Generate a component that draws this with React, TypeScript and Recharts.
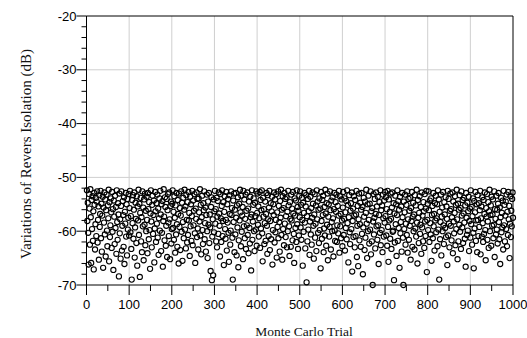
import React from 'react';
import { ScatterChart, Scatter, XAxis, YAxis, ReferenceLine } from 'recharts';

// Reverse isolation per Monte Carlo trial in blocks of 100 trials
const trials0 = [
  -52.4, -58.1, -54.7, -60.3, -66.2, -53.1, -55.8, -62.5, -52.2, -57.4,
  -65.9, -54.2, -59.6, -53.5, -61.8, -56.3, -67.1, -52.9, -55.1, -63.4,
  -58.7, -53.8, -60.9, -54.5, -52.6, -62.1, -57.9, -55.4, -65.3, -53.3,
  -59.2, -56.8, -52.5, -61.3, -54.9, -63.8, -57.1, -53.6, -66.8, -55.6,
  -58.4, -52.8, -60.6, -54.1, -64.7, -56.1, -53.2, -59.9, -62.8, -55.2,
  -57.6, -52.3, -65.6, -54.6, -61.1, -58.9, -53.9, -56.5, -63.1, -52.7,
  -60.1, -55.9, -67.2, -54.3, -57.3, -62.4, -53.4, -59.4, -55.5, -64.2,
  -52.4, -58.3, -61.6, -54.8, -56.9, -68.4, -53.0, -60.4, -57.8, -65.1,
  -55.3, -52.6, -63.6, -59.0, -54.4, -57.0, -62.9, -53.7, -66.1, -56.4,
  -58.6, -52.9, -61.0, -55.0, -64.5, -54.0, -59.7, -57.5, -53.1, -60.8,
];
const trials1 = [
  -55.7, -52.5, -60.2, -57.2, -63.3, -69.0, -54.2, -58.5, -53.3, -61.4,
  -56.0, -52.8, -64.9, -59.3, -54.7, -57.7, -62.2, -53.5, -66.4, -55.4,
  -58.0, -52.3, -60.7, -54.9, -68.5, -56.6, -53.8, -61.9, -57.4, -63.9,
  -52.6, -59.1, -55.6, -65.4, -54.1, -58.8, -53.0, -62.6, -56.2, -60.0,
  -53.6, -57.9, -64.1, -52.9, -55.9, -61.5, -54.6, -59.8, -67.0, -56.7,
  -52.4, -58.2, -63.0, -55.1, -53.4, -60.5, -57.0, -54.3, -65.8, -59.5,
  -52.7, -56.3, -62.0, -54.8, -58.6, -53.2, -61.2, -55.8, -64.4, -57.6,
  -53.9, -59.9, -52.5, -56.9, -63.7, -55.0, -60.3, -54.4, -66.6, -58.1,
  -52.2, -57.3, -61.7, -53.7, -55.5, -62.7, -59.0, -54.0, -64.8, -56.1,
  -53.1, -58.4, -60.9, -52.8, -57.8, -65.2, -55.3, -54.5, -62.3, -59.6,
];
const trials2 = [
  -54.9, -52.4, -59.4, -56.4, -61.6, -53.5, -57.5, -64.0, -55.2, -60.6,
  -52.9, -58.7, -62.9, -54.2, -56.8, -66.0, -53.0, -59.2, -55.7, -63.5,
  -57.1, -52.6, -60.1, -54.7, -65.5, -58.3, -53.8, -61.3, -56.0, -52.3,
  -59.7, -55.4, -63.2, -53.3, -57.9, -62.1, -54.6, -60.7, -52.7, -58.0,
  -56.6, -64.6, -53.6, -59.1, -55.0, -61.8, -57.2, -52.5, -62.6, -54.3,
  -58.9, -56.2, -53.1, -60.4, -65.9, -55.8, -57.7, -52.8, -61.1, -54.0,
  -59.5, -63.4, -53.9, -56.5, -58.2, -52.2, -60.8, -55.1, -64.3, -57.4,
  -53.4, -59.8, -62.4, -54.8, -56.1, -52.6, -61.5, -58.5, -55.6, -63.8,
  -57.0, -53.2, -60.0, -65.0, -54.5, -58.8, -52.9, -62.2, -56.9, -59.3,
  -67.4, -55.5, -53.7, -69.1, -61.0, -57.8, -68.2, -54.1, -60.2, -56.3,
];
const trials3 = [
  -52.5, -58.6, -55.9, -61.9, -53.8, -63.0, -57.3, -54.4, -60.5, -52.8,
  -56.7, -59.0, -64.7, -53.1, -57.6, -62.0, -55.3, -52.4, -60.9, -58.1,
  -54.6, -66.3, -56.4, -53.5, -59.6, -61.4, -57.9, -52.7, -63.6, -55.0,
  -58.4, -54.0, -60.3, -65.7, -53.3, -56.8, -62.5, -59.9, -52.6, -57.0,
  -55.7, -61.2, -69.0, -54.3, -58.3, -53.0, -63.9, -56.0, -60.6, -52.9,
  -57.5, -64.5, -55.2, -59.3, -53.7, -66.7, -61.7, -54.9, -58.0, -52.3,
  -56.5, -62.8, -53.4, -60.1, -57.1, -55.5, -65.2, -52.5, -59.1, -54.1,
  -61.3, -57.7, -53.2, -63.3, -56.2, -58.9, -52.8, -60.7, -55.8, -64.1,
  -54.5, -59.4, -62.3, -53.6, -57.4, -67.3, -56.9, -52.4, -61.6, -58.2,
  -55.1, -53.9, -60.0, -63.7, -54.7, -57.2, -59.7, -52.6, -62.7, -56.6,
];
const trials4 = [
  -53.0, -58.8, -55.4, -61.0, -57.6, -52.7, -63.1, -54.2, -59.5, -56.1,
  -52.4, -60.4, -65.6, -53.8, -57.3, -55.9, -62.4, -58.5, -54.5, -61.8,
  -56.8, -52.9, -59.0, -64.2, -53.3, -57.8, -60.9, -55.6, -52.5, -63.5,
  -58.1, -54.8, -61.5, -56.3, -53.6, -66.2, -59.8, -55.0, -57.0, -52.8,
  -62.1, -54.1, -60.2, -57.9, -53.1, -64.9, -56.5, -59.2, -52.6, -61.3,
  -55.3, -58.3, -63.8, -54.4, -57.5, -52.3, -60.7, -56.0, -65.3, -53.5,
  -59.6, -55.7, -62.6, -52.9, -58.6, -54.0, -61.1, -57.2, -53.7, -63.0,
  -56.4, -60.0, -52.5, -55.2, -59.1, -64.6, -54.6, -57.7, -62.9, -53.2,
  -58.0, -55.8, -61.7, -52.7, -56.7, -60.5, -65.9, -53.9, -57.1, -59.4,
  -54.3, -62.0, -52.4, -58.7, -55.5, -63.3, -56.2, -60.8, -53.4, -57.4,
];
const trials5 = [
  -52.6, -59.3, -55.1, -61.6, -53.8, -57.9, -66.4, -54.7, -60.1, -56.6,
  -52.9, -58.4, -63.2, -55.4, -53.3, -69.5, -57.2, -61.9, -54.0, -59.7,
  -56.3, -52.5, -64.4, -58.2, -53.6, -60.6, -55.7, -62.5, -57.5, -52.8,
  -54.9, -59.0, -65.1, -56.9, -53.1, -61.2, -58.6, -55.2, -63.7, -52.4,
  -57.8, -54.5, -60.3, -56.0, -62.2, -53.9, -59.8, -55.8, -66.9, -52.7,
  -58.1, -61.4, -54.2, -57.0, -53.4, -63.9, -59.5, -55.5, -60.8, -52.3,
  -56.7, -62.7, -54.8, -58.8, -53.0, -65.4, -57.3, -55.0, -61.0, -59.2,
  -52.6, -56.1, -63.4, -54.3, -58.3, -60.0, -53.7, -57.6, -64.7, -55.9,
  -52.9, -59.9, -61.8, -54.6, -56.4, -53.2, -62.0, -58.9, -55.3, -60.4,
  -57.1, -52.5, -64.0, -53.5, -59.1, -56.8, -61.3, -54.1, -58.0, -62.8,
];
const trials6 = [
  -55.6, -52.7, -60.7, -57.7, -53.9, -63.6, -56.5, -59.4, -54.4, -61.5,
  -52.4, -58.5, -55.1, -65.8, -57.4, -53.3, -60.2, -62.4, -56.2, -54.8,
  -59.6, -52.8, -67.5, -58.1, -55.8, -61.1, -53.5, -57.1, -63.0, -54.2,
  -60.9, -56.9, -52.5, -64.8, -59.0, -55.3, -66.5, -57.8, -53.0, -61.7,
  -58.7, -54.7, -62.9, -56.0, -52.9, -60.5, -55.5, -68.0, -59.3, -53.8,
  -57.3, -63.5, -54.5, -61.2, -56.6, -52.3, -58.6, -65.0, -55.0, -60.0,
  -53.4, -57.9, -62.3, -54.9, -59.7, -52.6, -64.3, -56.3, -61.9, -55.7,
  -70.0, -58.2, -53.1, -60.6, -57.5, -54.0, -63.2, -56.8, -52.8, -59.1,
  -55.4, -61.6, -53.6, -58.9, -66.1, -57.0, -54.6, -60.3, -52.4, -62.6,
  -56.1, -59.8, -55.2, -63.9, -53.2, -57.6, -61.0, -54.3, -58.4, -52.7,
];
const trials7 = [
  -57.2, -53.7, -60.8, -55.9, -62.7, -52.5, -59.2, -65.7, -54.1, -58.0,
  -56.4, -61.4, -53.0, -57.7, -63.3, -55.6, -52.8, -60.1, -59.9, -54.8,
  -69.1, -56.7, -62.1, -53.4, -58.7, -55.0, -64.6, -57.0, -52.4, -61.8,
  -54.4, -59.4, -56.0, -66.8, -53.6, -60.4, -58.3, -55.4, -63.8, -52.9,
  -57.4, -61.2, -70.0, -54.5, -59.6, -56.5, -53.2, -62.5, -58.6, -55.1,
  -60.7, -52.6, -64.0, -57.8, -54.0, -61.6, -56.2, -59.0, -53.8, -65.3,
  -55.7, -58.1, -52.7, -62.9, -57.3, -54.7, -60.0, -56.9, -63.4, -53.3,
  -59.5, -55.2, -61.0, -52.3, -58.4, -66.0, -54.2, -57.5, -62.2, -56.6,
  -53.5, -60.5, -58.8, -55.5, -64.2, -52.8, -59.3, -57.1, -61.9, -54.6,
  -56.3, -63.1, -53.1, -58.2, -60.9, -55.8, -52.5, -67.6, -57.9, -54.9,
];
const trials8 = [
  -59.8, -52.6, -56.1, -62.0, -54.3, -58.5, -60.6, -53.9, -65.5, -57.0,
  -55.3, -61.3, -52.9, -59.1, -56.8, -63.6, -54.8, -58.0, -53.4, -60.2,
  -57.6, -55.0, -62.8, -52.4, -59.7, -54.1, -69.0, -56.4, -61.5, -58.3,
  -53.2, -64.5, -57.3, -55.6, -60.0, -52.7, -58.9, -62.4, -54.6, -56.9,
  -59.4, -53.7, -61.1, -55.4, -57.7, -66.3, -52.5, -60.8, -54.0, -58.6,
  -63.0, -56.2, -53.0, -59.0, -55.9, -61.7, -57.4, -52.8, -64.1, -54.5,
  -58.2, -60.4, -56.6, -53.5, -62.6, -55.1, -59.6, -52.3, -57.8, -65.2,
  -54.9, -61.9, -56.0, -58.8, -53.3, -60.1, -55.7, -63.3, -52.6, -57.1,
  -59.3, -54.2, -62.2, -56.7, -53.8, -58.4, -61.4, -55.2, -66.6, -52.9,
  -57.5, -60.7, -54.7, -59.9, -56.3, -53.6, -63.7, -58.1, -55.8, -61.2,
];
const trials9 = [
  -52.4, -58.7, -55.5, -62.5, -57.2, -53.9, -60.3, -66.9, -54.4, -59.5,
  -56.5, -52.7, -61.8, -58.0, -55.0, -63.9, -53.3, -57.9, -60.9, -54.8,
  -59.2, -56.1, -52.5, -64.3, -57.6, -55.4, -61.0, -53.7, -58.5, -62.0,
  -54.2, -60.5, -56.8, -52.8, -59.8, -65.4, -55.7, -57.3, -53.1, -61.6,
  -58.2, -54.6, -63.1, -56.3, -52.3, -60.0, -57.0, -55.2, -62.7, -53.6,
  -59.0, -56.9, -54.1, -61.3, -58.8, -52.6, -64.8, -55.9, -57.7, -60.6,
  -53.4, -59.7, -56.0, -62.3, -54.9, -52.9, -58.3, -61.5, -55.6, -66.1,
  -57.4, -53.8, -60.2, -56.6, -59.3, -54.3, -63.4, -52.5, -58.9, -55.1,
  -61.9, -57.1, -54.5, -59.6, -53.2, -62.8, -56.4, -60.7, -52.7, -57.8,
  -55.3, -65.0, -58.6, -53.5, -61.1, -56.2, -59.1, -54.0, -52.8, -57.5,
];

const blocks = [trials0, trials1, trials2, trials3, trials4, trials5, trials6, trials7, trials8, trials9];

const xTicks = [0, 50, 100, 150, 200, 250, 300, 350, 400, 450, 500, 550, 600, 650, 700, 750, 800, 850, 900, 950, 1000];
const xGrid = [100, 200, 300, 400, 500, 600, 700, 800, 900];
const yTicks = [-70, -68, -66, -64, -62, -60, -58, -56, -54, -52, -50, -48, -46, -44, -42, -40, -38, -36, -34, -32, -30, -28, -26, -24, -22, -20];
const yGrid = [-60, -50, -40, -30];

const data = blocks.flatMap((block, b) =>
  block.map((v, i) => ({ trial: b * 100 + i + 1, iso: v }))
);

const tickFont = { fontFamily: 'Liberation Sans, Arial, sans-serif', fontSize: 13, fill: '#000' };
const titleFont = { fontFamily: 'Liberation Serif, Times New Roman, serif', fontSize: 15, fill: '#111' };

function XTick(props: any) {
  const { x, y, payload } = props;
  const major = payload.value % 100 === 0;
  return (
    <g>
      <line x1={x} y1={y} x2={x} y2={y + (major ? 10 : 6)} stroke="#000" strokeWidth={1} />
      {major && (
        <text x={x} y={y + 23.5} textAnchor="middle" {...tickFont}>
          {payload.value}
        </text>
      )}
    </g>
  );
}

function YTick(props: any) {
  const { x, y, payload } = props;
  const major = payload.value % 10 === 0;
  return (
    <g>
      <line x1={x - (major ? 10 : 5)} y1={y} x2={x} y2={y} stroke="#000" strokeWidth={1} />
      {major && (
        <text x={x - 10} y={y + 4.6} textAnchor="end" {...tickFont}>
          {payload.value}
        </text>
      )}
    </g>
  );
}

const Ring = (props: any) => (
  <circle cx={props.cx} cy={props.cy} r={2.6} fill="none" stroke="#000" strokeWidth={1.1} />
);

export default function App() {
  return (
    <div style={{ position: 'absolute', left: 0, top: 0, background: '#fff' }}>
      <ScatterChart width={527} height={338} margin={{ top: 16, right: 14, bottom: 0, left: 0 }}>
        <XAxis
          type="number"
          dataKey="trial"
          domain={[0, 1000]}
          ticks={xTicks}
          interval={0}
          height={53}
          tickSize={0}
          tickMargin={0}
          tickLine={false}
          axisLine={{ stroke: '#000' }}
          tick={<XTick />}
          label={{
            content: () => (
              <text x={304} y={336} textAnchor="middle" {...titleFont} fontSize={13.5}>
                Monte Carlo Trial
              </text>
            ),
          }}
        />
        <YAxis
          type="number"
          dataKey="iso"
          domain={[-70, -20]}
          ticks={yTicks}
          interval={0}
          width={86.5}
          tickSize={0}
          tickMargin={0}
          tickLine={false}
          axisLine={{ stroke: '#000' }}
          tick={<YTick />}
          label={{
            content: () => (
              <text x={31} y={154} transform="rotate(-90 31 154)" textAnchor="middle" {...titleFont}>
                Variations of Revers Isolation (dB)
              </text>
            ),
          }}
        />
        {xGrid.map((v) => (
          <ReferenceLine key={`gx${v}`} x={v} stroke="#cfcfcf" strokeWidth={1} />
        ))}
        {yGrid.map((v) => (
          <ReferenceLine key={`gy${v}`} y={v} stroke="#cfcfcf" strokeWidth={1} />
        ))}
        <ReferenceLine y={-20} stroke="#000" strokeWidth={1} />
        <ReferenceLine x={1000} stroke="#000" strokeWidth={1} />
        <Scatter data={data} shape={Ring} isAnimationActive={false} />
      </ScatterChart>
    </div>
  );
}
